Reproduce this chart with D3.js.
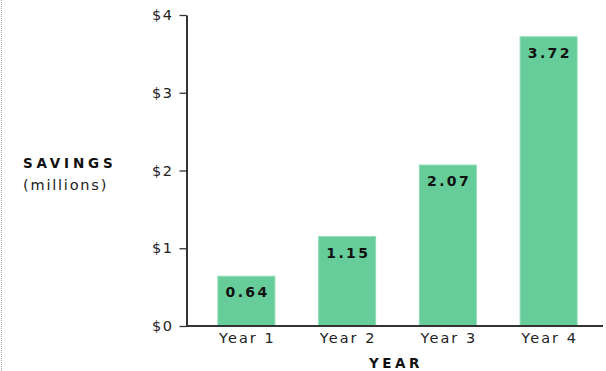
<!DOCTYPE html>
<html>
<head>
<meta charset="utf-8">
<script src="https://cdn.jsdelivr.net/npm/d3@7"></script>
<style>
  html, body { margin: 0; padding: 0; background: #fff; }
  svg { display: block; }
  text { font-family: "DejaVu Sans", Verdana, sans-serif; }
</style>
</head>
<body>
<svg id="chart" width="606" height="371"></svg>
<script>
// Savings per year, in millions of dollars
const years = ["Year 1", "Year 2", "Year 3", "Year 4"];
const savings = [0.64, 1.15, 2.07, 3.72];
const yTicks = [0, 1, 2, 3, 4];

const svg = d3.select("#chart");

// dotted page border on the left
svg.append("line")
  .attr("x1", 1.5).attr("x2", 1.5)
  .attr("y1", 0).attr("y2", 371)
  .attr("stroke", "#aaa")
  .attr("stroke-dasharray", "1,1");

const y = d3.scaleLinear().domain([0, 4]).range([326, 15]);
const x = d3.scaleBand().domain(years).range([196, 599])
  .paddingInner(0.434).paddingOuter(0.217);

// bars
svg.append("g").selectAll("rect")
  .data(savings)
  .join("rect")
  .attr("x", (d, i) => x(years[i]))
  .attr("y", d => y(d))
  .attr("width", x.bandwidth())
  .attr("height", d => y(0) - y(d))
  .attr("fill", "#66cc99")
  .attr("stroke", "#8fdcb5")
  .attr("stroke-width", 1);

// value labels inside the bars
svg.append("g").selectAll("text")
  .data(savings)
  .join("text")
  .attr("x", (d, i) => x(years[i]) + x.bandwidth() / 2 + 1.2)
  .attr("y", d => y(d) + 21)
  .attr("text-anchor", "middle")
  .attr("font-size", "14px")
  .attr("font-weight", "bold")
  .attr("letter-spacing", "2.4px")
  .attr("fill", "#111")
  .text(d => d.toFixed(2));

// y axis
const yAxis = svg.append("g")
  .attr("transform", "translate(186.5,0)")
  .call(d3.axisLeft(y).tickValues(yTicks).tickSize(7).tickSizeOuter(0)
    .tickFormat(d => "$" + d));
yAxis.select(".domain").attr("stroke", "#333").attr("stroke-width", 2);
yAxis.selectAll(".tick line").attr("stroke", "#333").attr("stroke-width", 1.3);
yAxis.selectAll(".tick text")
  .attr("font-family", "DejaVu Sans, Verdana, sans-serif")
  .attr("font-size", "14.5px").attr("fill", "#222").attr("x", -13)
  .attr("letter-spacing", "1.5px");

// x axis
const xAxis = svg.append("g")
  .attr("transform", "translate(0,326)")
  .call(d3.axisBottom(x).tickSize(0).tickSizeOuter(0));
xAxis.select(".domain").attr("stroke", "#333").attr("stroke-width", 2)
  .attr("d", "M186,0H603");
xAxis.selectAll(".tick text")
  .attr("font-family", "DejaVu Sans, Verdana, sans-serif")
  .attr("font-size", "14.5px").attr("fill", "#222").attr("dy", "0.95em")
  .attr("x", 1)
  .attr("letter-spacing", "2px");

// axis titles
svg.append("text")
  .attr("x", 396).attr("y", 368)
  .attr("text-anchor", "middle")
  .attr("font-size", "13.5px").attr("font-weight", "bold")
  .attr("letter-spacing", "3.5px").attr("fill", "#111")
  .text("YEAR");

svg.append("text")
  .attr("x", 23).attr("y", 168)
  .attr("font-size", "13.5px").attr("font-weight", "bold")
  .attr("letter-spacing", "3.8px").attr("fill", "#111")
  .text("SAVINGS");

svg.append("text")
  .attr("x", 23).attr("y", 190)
  .attr("font-size", "14.5px").attr("fill", "#222")
  .attr("letter-spacing", "1.8px")
  .text("(millions)");
</script>
</body>
</html>
